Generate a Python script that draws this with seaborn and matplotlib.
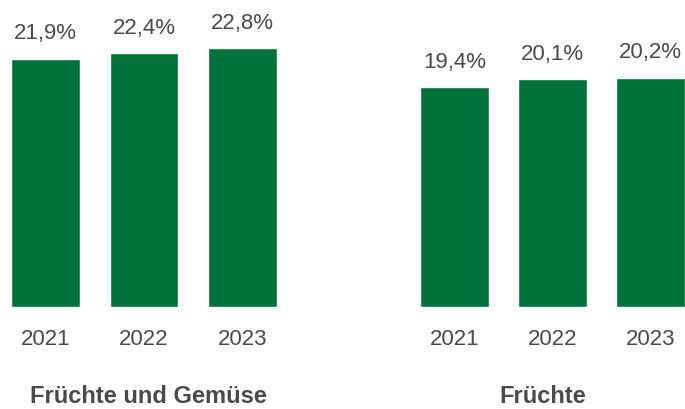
import matplotlib
matplotlib.use("Agg")
import matplotlib.pyplot as plt
import seaborn as sns

years = ["2021", "2022", "2023"]
obst_gemuese = [21.9, 22.4, 22.8]
fruechte = [19.4, 20.1, 20.2]
group_titles = ["Früchte und Gemüse", "Früchte"]

green = "#00733a"
grey = "#4a4a4a"

sns.set_theme(style="white")
plt.rcParams["font.family"] = ["Liberation Sans", "DejaVu Sans"]

fig = plt.figure(figsize=(6.85, 4.09), dpi=100)
W, H = 685, 409
base = 307
ax1 = fig.add_axes([0 / W, (H - base) / H, 296 / W, base / H])
ax2 = fig.add_axes([400 / W, (H - base) / H, 285 / W, base / H])

ymax = base / 11.34

for ax, vals, title, xlim in [
    (ax1, obst_gemuese, group_titles[0], (-0.462, 2.543)),
    (ax2, fruechte, group_titles[1], (-0.556, 2.352)),
]:
    sns.barplot(x=years, y=vals, ax=ax, color=green, saturation=1, width=0.7)
    ax.set_xlim(*xlim)
    ax.set_ylim(0, ymax)
    for i, v in enumerate(vals):
        ax.annotate(f"{v:.1f}".replace(".", ",") + "%", (i, v),
                    xytext=(0, 14), textcoords="offset points",
                    ha="center", va="baseline", fontsize=16, color=grey)
    ax.set_yticks([])
    ax.set_ylabel("")
    ax.tick_params(axis="x", length=0, pad=15.5, labelsize=16, labelcolor=grey)
    ax.set_xlabel(title, fontsize=17, fontweight="bold", color=grey, labelpad=25.5)
    for s in ax.spines.values():
        s.set_visible(False)
    ax.patch.set_alpha(0)

fig.savefig("out.png", dpi=100)
